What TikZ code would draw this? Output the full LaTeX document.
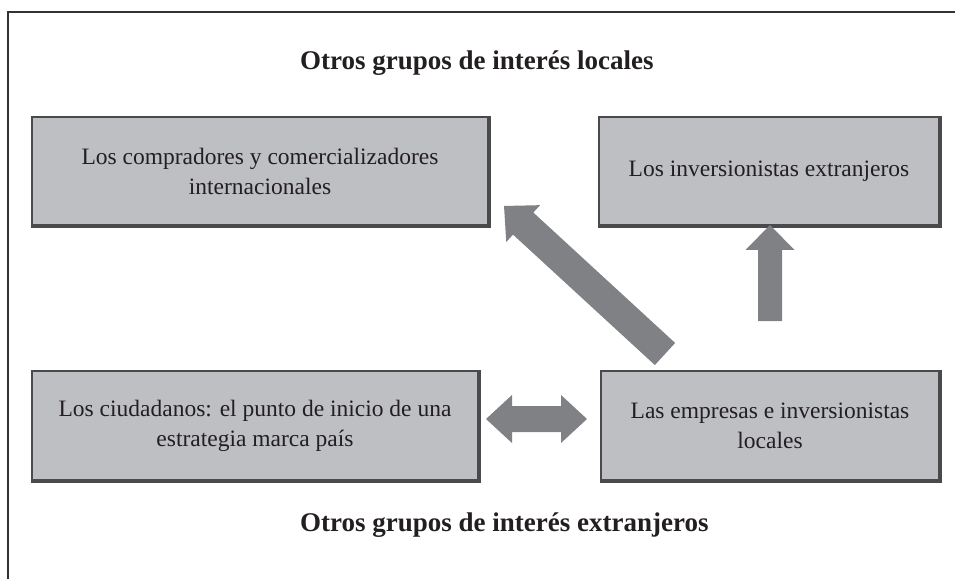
\documentclass[tikz,border=0pt]{standalone}
\usepackage{fontspec}
\setmainfont{Liberation Serif}
\definecolor{boxfill}{HTML}{BEBFC3}
\definecolor{boxline}{HTML}{4A4A4C}
\definecolor{arrowfill}{HTML}{808185}
\definecolor{framecol}{HTML}{333333}
\definecolor{txt}{HTML}{231F20}
\begin{document}
\begin{tikzpicture}[x=1pt,y=1pt,
  stakebox/.style={fill=boxfill, draw=boxline, line width=1.3pt, inner sep=0pt, align=center,
    font=\fontsize{23.5}{30}\selectfont, text=txt},
  titletext/.style={font=\bfseries\fontsize{27}{30}\selectfont, text=txt, anchor=west, inner sep=0pt},
  blockarrow/.style={fill=arrowfill, draw=none}]
\useasboundingbox (0,0) rectangle (955,579);
% frame (top and left edges)
\draw[framecol, line width=2pt] (8,0) -- (8,567) -- (955,567);
% boxes
\node[stakebox, minimum width=456pt, minimum height=108pt] (comp) at (260,408)
  {Los compradores y comercializadores\\internacionales};
\node[stakebox, minimum width=340pt, minimum height=108pt] (inv) at (769,408)
  {Los inversionistas extranjeros};
\node[stakebox, minimum width=446pt, minimum height=109pt] (ciud) at (255,153.5)
  {Los ciudadanos: el punto de inicio de una\\estrategia marca país};
\node[stakebox, minimum width=338pt, minimum height=109pt] (emp) at (770,153.5)
  {Las empresas e inversionistas\\locales};
% shadow edges
\foreach \n in {comp,inv,ciud,emp}{
  \draw[boxline, line width=2.2pt] ([xshift=1.2pt]\n.north east) -- ([xshift=1.2pt,yshift=-1.2pt]\n.south east) -- ([yshift=-1.2pt]\n.south west);
}
% titles
\node[titletext] (tloc) at (300,516) {Otros grupos de interés locales};
\node[titletext] (text) at (300,54) {Otros grupos de interés extranjeros};
% diagonal arrow: emp -> comp
\coordinate (d0) at (665,225);
\coordinate (d1) at (504,373);
\fill[blockarrow, shift={(d0)}, rotate=137.4]
  (0,-15) -- (192.7,-15) -- (192.7,-25) -- (218.7,0) -- (192.7,25) -- (192.7,15) -- (0,15) -- cycle;
% vertical arrow: emp -> inv
\coordinate (v0) at (770,258);
\coordinate (v1) at (770,354);
\fill[blockarrow, shift={(v0)}, rotate=90]
  (0,-12) -- (71,-12) -- (71,-24.5) -- (96,0) -- (71,24.5) -- (71,12) -- (0,12) -- cycle;
% double arrow: ciud <-> emp
\coordinate (h0) at (486,160);
\coordinate (h1) at (587,160);
\fill[blockarrow, shift={(h0)}]
  (0,0) -- (26,24) -- (26,13) -- (75,13) -- (75,24) -- (101,0) -- (75,-24) -- (75,-13) -- (26,-13) -- (26,-24) -- cycle;
\end{tikzpicture}
\end{document}
